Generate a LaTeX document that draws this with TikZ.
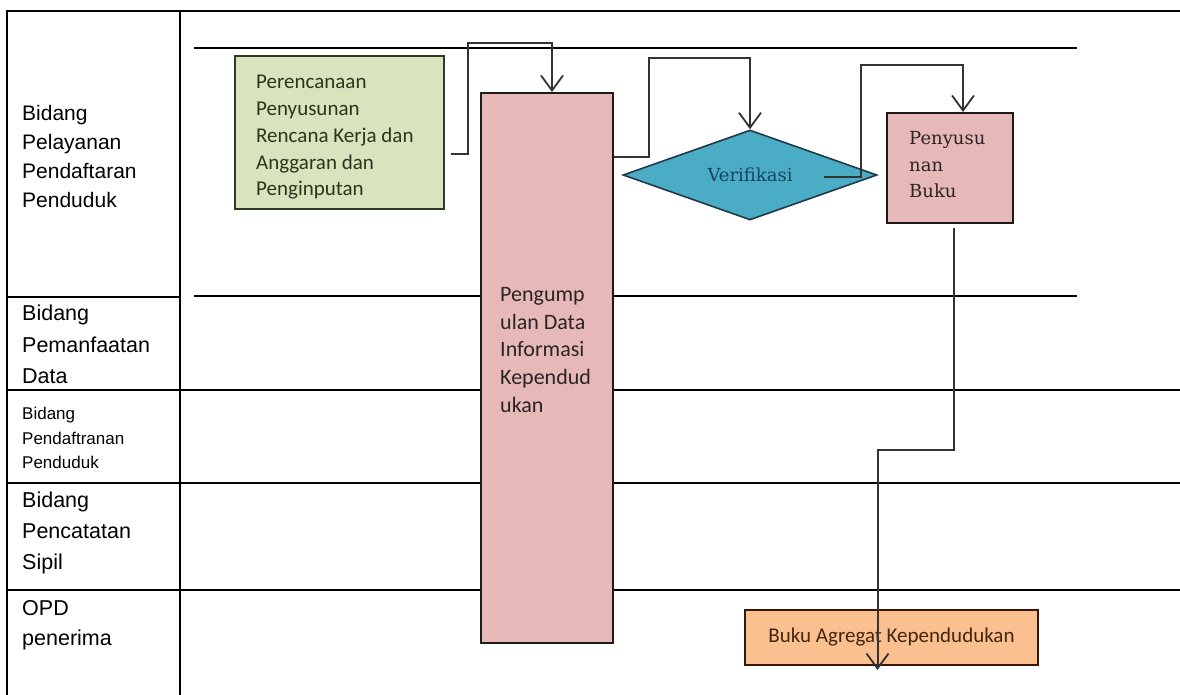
\documentclass[tikz,border=0pt]{standalone}
\usepackage{fontspec}
\setmainfont{Liberation Sans}
\newfontfamily\calfont{Carlito}
\newfontfamily\serfont{DejaVu Serif}
\usetikzlibrary{shapes.geometric,arrows.meta,calc}

\definecolor{greenfill}{HTML}{D7E4BD}
\definecolor{greenline}{HTML}{2F3A22}
\definecolor{greentext}{HTML}{2E3320}
\definecolor{pinkfill}{HTML}{E6B8B7}
\definecolor{pinkline}{HTML}{1E1A1A}
\definecolor{pinktext}{HTML}{2A2424}
\definecolor{cyanfill}{HTML}{4BACC6}
\definecolor{cyanline}{HTML}{1F3A48}
\definecolor{cyantext}{HTML}{17435E}
\definecolor{orangefill}{HTML}{FAC090}
\definecolor{orangeline}{HTML}{3A1608}
\definecolor{orangetext}{HTML}{45260E}
\definecolor{connc}{HTML}{333333}

\begin{document}
\begin{tikzpicture}[x=1pt,y=-1pt,
  frame/.style={line width=2.2pt, black, line cap=rect},
  laneline/.style={line width=2pt, black},
  thinline/.style={line width=1.2pt, black},
  lanelabel/.style={anchor=north west, inner sep=0pt, align=left,
    font=\fontsize{21}{29}\selectfont},
  shape box/.style={anchor=north west, inner sep=0pt, line width=2pt},
  conn/.style={draw=connc, line width=2pt,
    -{Straight Barb[length=15pt,width=22pt,line width=1.8pt]}},
]
\useasboundingbox (0,0) rectangle (1180,694);
\fill[white] (0,0) rectangle (1180,694);

% outer frame and label column
\draw[frame] (1180,11) -- (7,11) -- (7,694);
\draw[frame] (180,11) -- (180,694);
\foreach \yy in {297,390,483} \draw[laneline] (7,\yy) -- (180,\yy);
\draw[line width=2.6pt] (7,590) -- (180,590);

% lane separators in the process area
\draw[laneline] (194,48) -- (1077,48);
\draw[laneline] (194,296) -- (1077,296);
\draw[laneline] (180,390) -- (1180,390);
\draw[laneline] (180,483) -- (1180,483);
\draw[thinline] (180,590) -- (1180,590);

% lane labels
\node[lanelabel] (lane1) at (22,105) {Bidang\\Pelayanan\\Pendaftaran\\Penduduk};
\node[lanelabel, font=\fontsize{21.5}{31.5}\selectfont] (lane2) at (22,305) {Bidang\\Pemanfaatan\\Data};
\node[lanelabel, font=\fontsize{17}{24.5}\selectfont] (lane3) at (22,407) {Bidang\\Pendaftranan\\Penduduk};
\node[lanelabel, font=\fontsize{21.5}{31}\selectfont] (lane4) at (22,492) {Bidang\\Pencatatan\\Sipil};
\node[lanelabel, font=\fontsize{21.5}{30}\selectfont] (lane5) at (22,600) {OPD\\penerima};

% process shapes
\node[shape box, draw=greenline, fill=greenfill, minimum width=209pt, minimum height=153pt] (plan) at (234,55) {};
\node[anchor=north west, inner sep=0pt, align=left, text=greentext,
  font=\calfont\fontsize{21}{26.8}\selectfont] (plantext) at (256,75)
  {Perencanaan\\Penyusunan\\Rencana Kerja dan\\Anggaran dan\\Penginputan};

\node[shape box, draw=pinkline, fill=pinkfill, minimum width=132pt, minimum height=550pt] (collect) at (480,92) {};
\node[anchor=north west, inner sep=0pt, align=left, text=pinktext,
  font=\calfont\fontsize{22}{27.7}\selectfont] (collecttext) at (500,287)
  {Pengump\\ulan Data\\Informasi\\Kependud\\ukan};

\node[shape=diamond, draw=cyanline, fill=cyanfill, line width=1.6pt, inner sep=0pt,
  minimum width=254pt, minimum height=90pt, shape aspect=2.8,
  text=cyantext, font=\serfont\fontsize{18}{20}\selectfont] (verif) at (750,175) {Verifikasi};

\node[shape box, draw=pinkline, fill=pinkfill, minimum width=126pt, minimum height=110pt] (compile) at (886,112) {};
\node[anchor=north west, inner sep=0pt, align=left, text=pinktext,
  font=\serfont\fontsize{18}{26.5}\selectfont] (compiletext) at (909,131.5)
  {Penyusu\\nan\\Buku};

\node[shape box, draw=orangeline, fill=orangefill, minimum width=293pt, minimum height=55pt,
  text=orangetext, font=\calfont\fontsize{21}{24}\selectfont] (book) at (744,609)
  {Buku Agregat Kependudukan};

% connectors
\draw[conn] ($(plan.east)+(6,21)$) -- ++(17,0) |- ($(collect.north west)+(72,-49)$)
  -- ($(collect.north west)+(72,0)$);
\draw[conn] ($(collect.north east)+(0,65)$) -- ++(35,0) |- ($(verif.north)+(0,-71)$)
  -- (verif.north);
\draw[conn] ($(verif.center)+(74,2)$) -- ++(37,0) |- ($(compile.north)+(13,-47)$)
  -- ($(compile.north)+(13,0)$);
\draw[conn] ($(compile.south)+(4,4)$) -- ++(0,222) -| ($(book.south)+(-14,4)$);
\end{tikzpicture}
\end{document}
